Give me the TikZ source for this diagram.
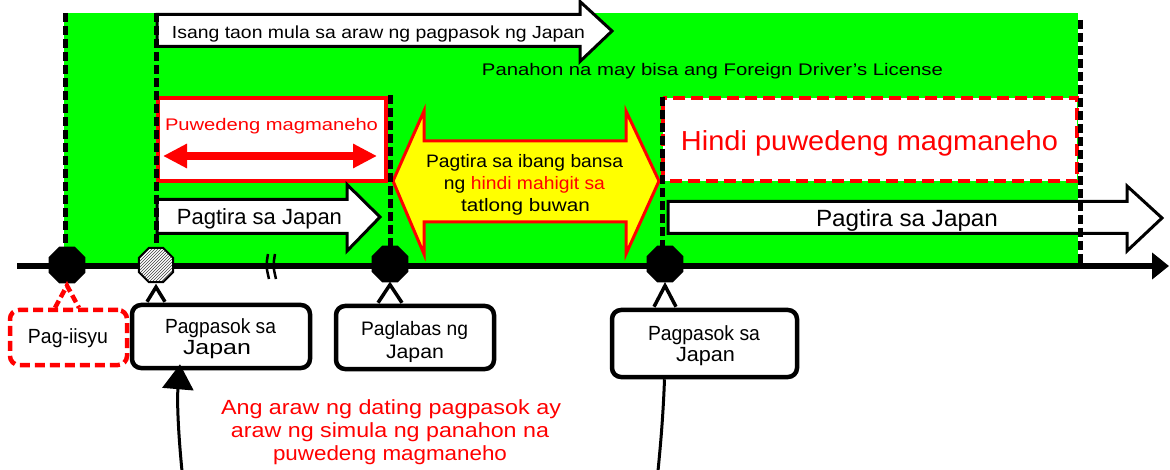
\documentclass[tikz,border=0pt]{standalone}
\usepackage{fontspec}
\setmainfont{Liberation Sans}
\usetikzlibrary{arrows.meta,shapes.geometric,patterns,calc}
\definecolor{grn}{RGB}{0,255,0}
\definecolor{ylw}{RGB}{255,255,0}
\definecolor{rd}{RGB}{255,0,0}
\newcommand\ST[3]{\resizebox{#2pt}{\height}{\fontsize{#1pt}{#1pt}\selectfont #3}}
\begin{document}
\begin{tikzpicture}[x=1pt,y=-1pt,
  txt/.style={inner sep=0pt, anchor=base},
  vdash/.style={line width=5pt, dash pattern=on 9pt off 4pt},
  warrow/.style={draw=black, fill=white, line width=3pt, line join=miter},
  callbox/.style={draw=black, fill=white, line width=4.5pt, rounded corners=9pt, inner sep=0pt},
  redcall/.style={draw=rd, fill=white, line width=4.5pt, rounded corners=9pt, inner sep=0pt, dash pattern=on 10pt off 5pt},
  oct/.style={regular polygon, regular polygon sides=8, minimum size=40pt, inner sep=0pt, fill=black},
  pointer/.style={draw=black, fill=white, line width=3.5pt, line join=miter},
  conn/.style={draw=black, line width=3pt}
]
\useasboundingbox (0,0) rectangle (1170,470);
\clip (0,0) rectangle (1170,470);

% green validity period
\fill[grn] (64,13) rectangle (1078,266);

% top arrow
\draw[warrow] (157,14.5) -- (580,14.5) -- (580,1.5) -- (612,31) -- (580,61.5) -- (580,46.5) -- (157,46.5) -- cycle;
\node[txt] (ttop) at (378.5,38.5) {\ST{17.5}{413}{Isang taon mula sa araw ng pagpasok ng Japan}};

\node[txt] (tpan) at (712.5,76) {\ST{16.8}{461}{Panahon na may bisa ang Foreign Driver’s License}};

% can drive box
\draw[rd, line width=3.5pt, fill=white] (158,98) rectangle (386,181);
\node[txt, text=rd] (tcan) at (271.5,131) {\ST{16.8}{213}{Puwedeng magmaneho}};
\coordinate (ra) at (163,156);
\coordinate (rb) at (377,156);
\draw[rd, line width=7.5pt, {Triangle[length=24pt,width=23pt]}-{Triangle[length=24pt,width=23pt]}] (ra) -- (rb);

% cannot drive box
\draw[rd, line width=3.5pt, dash pattern=on 12pt off 6pt, fill=white] (663,98) rectangle (1077,181);
\node[txt, text=rd] (tcannot) at (869.5,151) {\ST{27.5}{377}{Hindi puwedeng magmaneho}};

% stay in Japan arrows
\draw[warrow] (157,199.5) -- (347,199.5) -- (347,184.5) -- (380,217) -- (347,251) -- (347,233.5) -- (157,233.5) -- cycle;
\node[txt] (tstay1) at (259.5,225) {\ST{22}{165}{Pagtira sa Japan}};
\draw[warrow] (668,201.5) -- (1127,201.5) -- (1127,186) -- (1162,218) -- (1127,251) -- (1127,233.5) -- (668,233.5) -- cycle;
\node[txt] (tstay2) at (907,227) {\ST{23.5}{182}{Pagtira sa Japan}};

% abroad double arrow
\draw[fill=ylw, draw=rd, line width=3pt, line join=miter] (393,181) -- (424,111) -- (424,141) -- (626,141) -- (626,111) -- (659,181) -- (626,254) -- (626,222) -- (424,222) -- (424,254) -- cycle;
\node[txt] (ty1) at (524.5,168) {\ST{18}{197}{Pagtira sa ibang bansa}};
\node[txt] (ty2) at (524.5,190) {\ST{18}{161}{ng \textcolor{rd}{hindi mahigit sa}}};
\node[txt] (ty3) at (525.5,212) {\ST{18}{129}{tatlong buwan}};

% dashed verticals
\draw[vdash] (65,13) -- (65,250);
\draw[vdash] (156,13) -- (156,250);
\draw[vdash] (390,95) -- (390,250);
\draw[vdash] (662,97) -- (662,250);
\draw[vdash] (1080,20) -- (1080,266);

% timeline
\coordinate (tl0) at (17,266);
\coordinate (tl1) at (1169,266);
\draw[line width=5.5pt, -{Triangle[length=17pt,width=26pt]}] (tl0) -- (tl1);
\draw[line width=2.5pt] (268,254) .. controls (266,266) .. (269,279);
\draw[line width=2.5pt] (275,254) .. controls (273,266) .. (276,279);

% markers
\node[oct] (o1) at (67,265) {};
\node[oct, preaction={fill=white}, pattern=north east lines, pattern color=black!75, draw=black, line width=2pt, minimum size=37pt] (o2) at (156,265) {};
\node[oct] (o3) at (390,264) {};
\node[oct] (o4) at (665,264) {};

% callout boxes
\node[redcall, minimum width=117pt, minimum height=55pt] (bi) at (68.5,337.5) {};
\node[callbox, minimum width=178pt, minimum height=63pt] (b1) at (221,336.5) {};
\node[callbox, minimum width=158pt, minimum height=63pt] (b2) at (415,337.5) {};
\node[callbox, minimum width=185pt, minimum height=67pt] (b3) at (704.5,343.5) {};

% pointers
\draw[rd, line width=4.5pt, dash pattern=on 8pt off 4pt] ($(o1.south |- bi.north)+(-12,0)$) -- ($(o1.south)+(0,2)$) -- ($(o1.south |- bi.north)+(12,0)$);
\draw[pointer] ($(o2.south |- b1.north)+(-9,-1)$) -- ($(o2.south)+(0,4)$) -- ($(o2.south |- b1.north)+(9,-1)$);
\draw[pointer] ($(o3.south |- b2.north)+(-12,-1)$) -- ($(o3.south)+(0,2)$) -- ($(o3.south |- b2.north)+(12,-1)$);
\draw[pointer] ($(o4.south |- b3.north)+(-11,-1)$) -- ($(o4.south)+(0,3)$) -- ($(o4.south |- b3.north)+(11,-1)$);

% box texts
\node[txt] (tiss) at (68,344) {\ST{20.5}{80}{Pag-iisyu}};
\node[txt] (tb1a) at (220.5,334) {\ST{20.5}{111}{Pagpasok sa}};
\node[txt] (tb1b) at (217,355) {\ST{20.5}{68}{Japan}};
\node[txt] (tb2a) at (414.5,336) {\ST{19.5}{107}{Paglabas ng}};
\node[txt] (tb2b) at (415,358) {\ST{19.5}{58}{Japan}};
\node[txt] (tb3a) at (704,341) {\ST{20.5}{112}{Pagpasok sa}};
\node[txt] (tb3b) at (705.5,362) {\ST{20.5}{59}{Japan}};

% connectors at bottom
\coordinate (cl) at (182,471);
\coordinate (cr) at (658,471);
\draw[conn, -{Triangle[length=25pt,width=31pt]}] (cl) .. controls (178,430) and (177,400) .. ($(b1.south)+(-41,-6)$);
\draw[conn] ($(b3.south)+(-40,0)$) .. controls (663,420) and (660,450) .. (cr);

% red note
\node[txt, text=rd] (n1) at (391,414) {\ST{20.5}{340}{Ang araw ng dating pagpasok ay}};
\node[txt, text=rd] (n2) at (390,437) {\ST{20.5}{318}{araw ng simula ng panahon na}};
\node[txt, text=rd] (n3) at (390,460) {\ST{20.5}{234}{puwedeng magmaneho}};
\end{tikzpicture}
\end{document}
